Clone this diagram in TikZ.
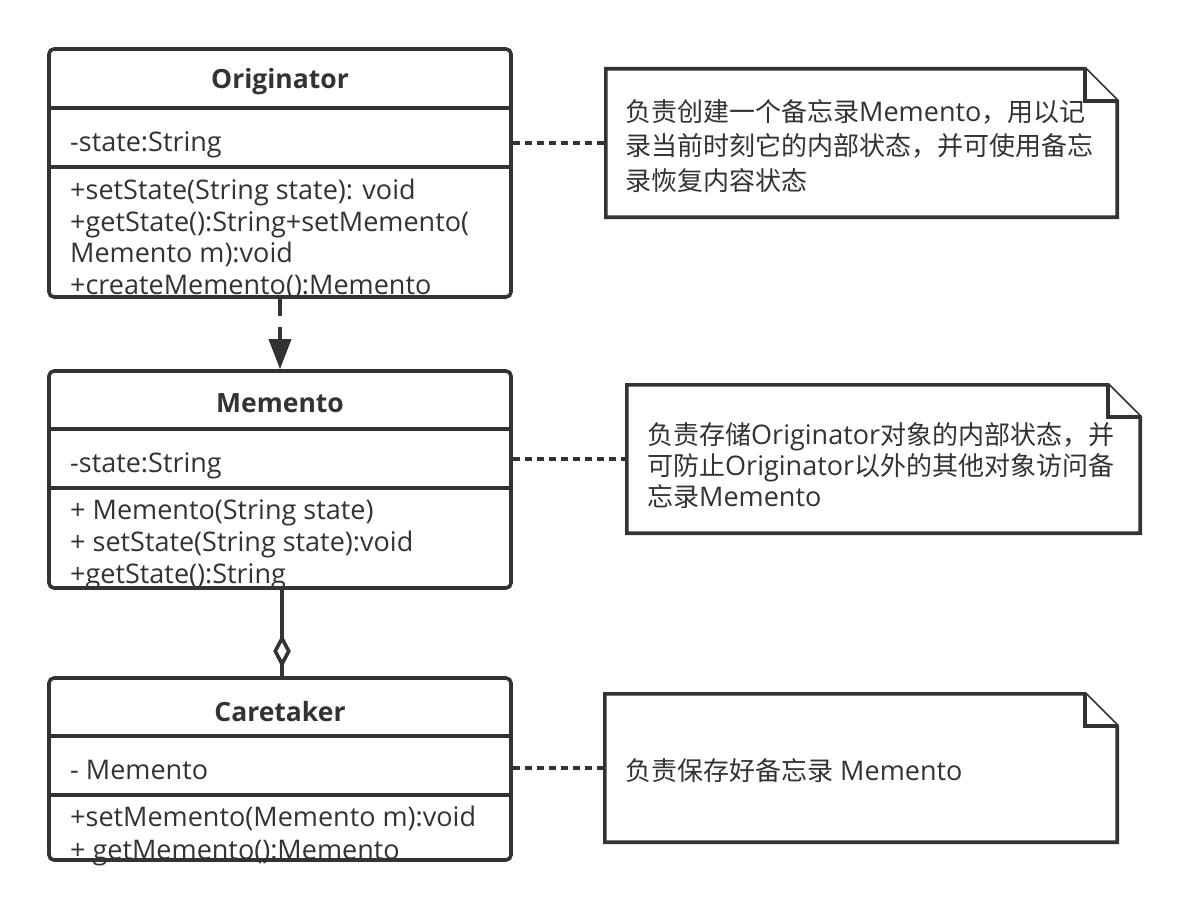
\documentclass[tikz,border=0pt]{standalone}
\usepackage{fontspec}
\setmainfont{Open Sans}
\newfontfamily\cjk{Noto Sans CJK SC}[Scale=0.963]
\usetikzlibrary{arrows.meta,shapes.geometric}
\definecolor{ink}{RGB}{51,51,51}
\newcommand\zhtxt[1]{{\cjk #1}}
\tikzset{
  cls/.style={draw=ink, line width=3.6pt, rounded corners=5pt, minimum width=462pt, inner sep=0pt},
  div/.style={draw=ink, line width=3.6pt},
  txt/.style={anchor=base west, inner sep=0pt, text=ink, font=\fontsize{27}{32}\selectfont},
  hdr/.style={anchor=base, inner sep=0pt, text=ink, font=\fontsize{26.5}{32}\selectfont\bfseries},
  notebox/.style={inner sep=0pt, minimum height=148pt},
  noteline/.style={draw=ink, line width=3.6pt, line join=miter, fill=white},
  dotconn/.style={draw=ink, line width=3.6pt, dash pattern=on 7pt off 5pt},
  dep/.style={draw=ink, line width=3.6pt, dash pattern=on 17pt off 11pt, -{Triangle[length=30pt,width=22pt]}},
  agg/.style={draw=ink, line width=3.6pt},
  aggd/.style={diamond, draw=ink, fill=white, line width=3.6pt, minimum width=15pt, minimum height=27pt, inner sep=0pt, aspect=0.6},
}
\begin{document}
\begin{tikzpicture}[x=1pt,y=-1pt]
\useasboundingbox[fill=white] (0,0) rectangle (1190,912);

% ---------- class boxes ----------
\node[cls, minimum height=248pt] (orig) at (280,173) {};
\draw[div] ([yshift=-61pt]orig.north west) -- ([yshift=-61pt]orig.north east);
\draw[div] ([yshift=-120pt]orig.north west) -- ([yshift=-120pt]orig.north east);

\node[cls, minimum height=217pt] (mem) at (280,479.5) {};
\draw[div] ([yshift=-60pt]mem.north west) -- ([yshift=-60pt]mem.north east);
\draw[div] ([yshift=-119pt]mem.north west) -- ([yshift=-119pt]mem.north east);

\node[cls, minimum height=182pt] (care) at (280,769) {};
\draw[div] ([yshift=-60pt]care.north west) -- ([yshift=-60pt]care.north east);
\draw[div] ([yshift=-119pt]care.north west) -- ([yshift=-119pt]care.north east);

% ---------- class texts ----------
\node[hdr] (oh) at (280,89) {Originator};
\node[txt] (oa) at (70,152) {-state:String};
\node[txt] (om1) at (70,199) {+setState(String state): void};
\node[txt] (om2) at (70,231) {+getState():String+setMemento(};
\node[txt] (om3) at (70,262) {Memento m):void};
\node[txt] (om4) at (70,294) {+createMemento():Memento};

\node[hdr] (mh) at (280,412) {Memento};
\node[txt] (ma) at (70,472) {-state:String};
\node[txt] (mm1) at (70,519) {+ Memento(String state)};
\node[txt] (mm2) at (70,551) {+ setState(String state):void};
\node[txt] (mm3) at (70,583) {+getState():String};

\node[hdr] (ch) at (280,721) {Caretaker};
\node[txt] (ca) at (70,779) {- Memento};
\node[txt] (cm1) at (70,826) {+setMemento(Memento m):void};
\node[txt] (cm2) at (70,859) {+ getMemento():Memento};

% ---------- notes ----------
\node[notebox, minimum width=511pt] (n1) at (861.5,143) {};
\node[notebox, minimum width=513pt] (n2) at (883.5,459) {};
\node[notebox, minimum width=512pt] (n3) at (861,768) {};
\foreach \n in {n1,n2,n3}{
  \draw[noteline] (\n.north west) -- ([xshift=-32pt]\n.north east) -- ([yshift=-32pt]\n.north east)
     -- (\n.south east) -- (\n.south west) -- cycle;
  \draw[noteline] ([xshift=-32pt]\n.north east) -- ([xshift=-32pt,yshift=-32pt]\n.north east) -- ([yshift=-32pt]\n.north east);
}
\node[txt] (t11) at (625,122) {\zhtxt{负责创建一个备忘录}Memento\zhtxt{，用以记}};
\node[txt] (t12) at (625,156) {\zhtxt{录当前时刻它的内部状态，并可使用备忘}};
\node[txt] (t13) at (625,190) {\zhtxt{录恢复内容状态}};

\node[txt] (t21) at (647,444) {\zhtxt{负责存储}Originator\zhtxt{对象的内部状态，并}};
\node[txt] (t22) at (647,475) {\zhtxt{可防止}Originator\zhtxt{以外的其他对象访问备}};
\node[txt] (t23) at (647,506) {\zhtxt{忘录}Memento};

\node[txt] (t31) at (625,780) {\zhtxt{负责保存好备忘录} Memento};

% ---------- connectors ----------
\draw[dotconn] (orig.east |- n1.west) -- (n1.west);
\draw[dotconn] (mem.east |- n2.west) -- (n2.west);
\draw[dotconn] (care.east |- n3.west) -- (n3.west);

\draw[dep] (orig.south) -- (mem.north);
\draw[agg] ([xshift=2pt]mem.south) -- node[aggd, pos=0.71] (dia) {} ([xshift=2pt]care.north);
\end{tikzpicture}
\end{document}
